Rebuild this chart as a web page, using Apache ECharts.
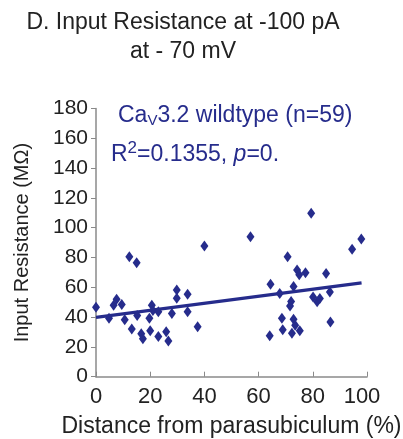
<!DOCTYPE html>
<html><head><meta charset="utf-8">
<script src="https://cdn.jsdelivr.net/npm/echarts@6/dist/echarts.min.js"></script>
<style>html,body{margin:0;padding:0;background:#fff}#c{width:403px;height:439px}</style>
</head><body><div id="c"></div>
<script>
const xTicks = [0, 20, 40, 60, 80, 100];
const yTicks = [0, 20, 40, 60, 80, 100, 120, 140, 160, 180];
const distance = [0,4.8,6.5,7.6,9.5,10.6,12.3,13.2,15,15.2,16.7,17.3,19.7,20,20.6,21,23,23,25.9,26.7,28,29.8,29.8,33.8,33.8,37.5,40,57,64.1,64.4,67.8,68.6,68.9,70.7,72,71.6,72.3,72.9,72.9,73.5,74.2,75,75.2,77.3,79.4,80.1,81.6,82.6,84.9,86.3,86.5,94.5,97.9];
const resistance = [46.6,39.2,48,52,48.5,38.3,80.5,32,76.5,41,28.8,25.4,39.2,30.8,48,44.5,43.6,27,30.2,24,42.5,58.2,52.6,55.3,43.6,33.6,87.7,94,27.4,62,55.8,39.2,31.5,80.5,50.5,47.5,29.1,60.6,38.5,34.5,71.6,68.5,30.9,69.8,109.7,53.5,50.3,52.4,69.2,56.8,36.7,85.5,92.4];
const trendX = [0, 98];
const trendY = [39.8, 63];
const navy = '#262C8C';
const font = 'Liberation Sans';

const chart = echarts.init(document.getElementById('c'));
chart.setOption({
  backgroundColor: '#fff',
  animation: false,
  title: {
    text: 'D. Input Resistance at -100 pA\nat - 70 mV',
    left: 178, top: 3, textAlign: 'center',
    textStyle: {fontFamily: font, fontSize: 23, fontWeight: 'normal', color: '#222', lineHeight: 29, align: 'center'}
  },
  grid: {left: 96, right: 36, top: 108.5, bottom: 62.3, containLabel: false, outerBoundsMode: 'none'},
  xAxis: {
    type: 'value', min: 0, max: 100, interval: 20,
    name: 'Distance from parasubiculum (%)', nameLocation: 'middle', nameGap: 38,
    nameTextStyle: {fontFamily: font, fontSize: 23, color: '#222'},
    axisLine: {lineStyle: {color: '#8a8a8a', width: 1.5}},
    axisTick: {inside: true, length: 5, lineStyle: {color: '#8a8a8a'}},
    axisLabel: {fontFamily: font, fontSize: 22, color: '#222', margin: 9,
      formatter: v => xTicks.includes(v) ? (v === 100 ? '{r|100}' : String(v)) : '',
      rich: {r: {fontFamily: font, fontSize: 22, color: '#222', padding: [0, 10, 0, 0]}}},
    splitLine: {show: false}
  },
  yAxis: {
    type: 'value', min: 0, max: 180, interval: 20,
    name: 'Input Resistance (MΩ)', nameLocation: 'middle', nameGap: 64, nameRotate: 90,
    nameTextStyle: {fontFamily: font, fontSize: 20, color: '#222'},
    axisLine: {show: true, lineStyle: {color: '#8a8a8a', width: 1.5}},
    axisTick: {show: true, length: 5, lineStyle: {color: '#8a8a8a'}},
    axisLabel: {fontFamily: font, fontSize: 21, color: '#222', margin: 8,
      formatter: v => yTicks.includes(v) ? String(v) : ''},
    splitLine: {show: false}
  },
  graphic: [
    {type: 'text', left: 118, top: 104, style: {
      text: '{a|Ca}{s|V}{a|3.2 wildtype (n=59)}',
      rich: {
        a: {fontFamily: font, fontSize: 23, fill: navy, color: navy},
        s: {fontFamily: font, fontSize: 15, fill: navy, color: navy, padding: [11, 0, 0, 0]}
      }}},
    {type: 'text', left: 111, top: 140, style: {
      text: '{a|R}{s|2}{a|=0.1355, }{i|p}{a|=0.}',
      rich: {
        a: {fontFamily: font, fontSize: 23, fill: navy, color: navy},
        s: {fontFamily: font, fontSize: 17, fill: navy, color: navy, padding: [0, 0, 12, 0]},
        i: {fontFamily: font, fontSize: 23, fontStyle: 'italic', fill: navy, color: navy}
      }}}
  ],
  series: [
    {type: 'line', data: trendX.map((x, i) => [x, trendY[i]]), symbol: 'none',
      lineStyle: {color: navy, width: 3.2}, z: 3},
    {type: 'scatter', data: distance.map((x, i) => [x, resistance[i]]),
      symbol: 'diamond', symbolSize: [8, 11], itemStyle: {color: navy, opacity: 1}, z: 4}
  ]
});
</script></body></html>
